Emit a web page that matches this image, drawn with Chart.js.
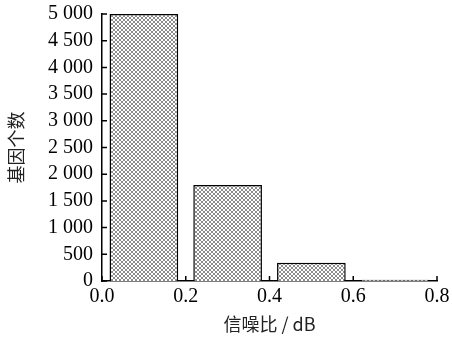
<!DOCTYPE html>
<html>
<head>
<meta charset="utf-8">
<script src="https://cdn.jsdelivr.net/npm/chart.js@4"></script>
<style>
  body { margin: 0; background: #fff; }
</style>
</head>
<body>
<canvas id="histChart" width="452" height="340"></canvas>
<script>
const binCenters = [0.1, 0.3, 0.5, 0.7];
const geneCounts = [5000, 1800, 340, 25];
const xTicks = [0, 0.2, 0.4, 0.6, 0.8];
const yMax = 5000;
const yStep = 500;

// crosshatch fill
function hatch() {
    const c = document.createElement('canvas');
    c.width = 4;
    c.height = 4;
    const g = c.getContext('2d');
    g.fillStyle = '#fff';
    g.fillRect(0, 0, 4, 4);
    g.fillStyle = '#8c8c8c';
    for (let i = 0; i < 4; i++) {
        g.fillRect(i, i, 1, 1);
        g.fillRect(3 - i, i, 1, 1);
    }
    return g.createPattern(c, 'repeat');
}

// short inward tick marks
const innerTicks = {
    id: 'innerTicks',
    afterDraw(chart) {
        const ctx = chart.ctx;
        const x = chart.scales.x;
        const y = chart.scales.y;
        ctx.save();
        ctx.strokeStyle = '#000';
        ctx.lineWidth = 1.5;
        ctx.beginPath();
        y.ticks.forEach(t => {
            const py = y.getPixelForValue(t.value);
            ctx.moveTo(x.left, py);
            ctx.lineTo(x.left + 5, py);
        });
        x.ticks.forEach(t => {
            const px = x.getPixelForValue(t.value);
            ctx.moveTo(px, y.bottom);
            ctx.lineTo(px, y.bottom - 5);
        });
        ctx.stroke();
        ctx.restore();
    }
};

const serif = { family: '"Times New Roman", "Liberation Serif", serif', size: 20 };
const cjk = { family: '"Noto Sans CJK SC", sans-serif', size: 18 };

new Chart(document.getElementById('histChart'), {
    type: 'bar',
    data: {
        datasets: [{
            data: binCenters.map((c, i) => ({ x: c, y: geneCounts[i] })),
            backgroundColor: hatch(),
            borderColor: '#000',
            borderWidth: 1.5,
            barPercentage: 1,
            categoryPercentage: 0.82
        }]
    },
    options: {
        responsive: false,
        devicePixelRatio: 1,
        animation: false,
        layout: { padding: { left: 0, right: 15, top: 14, bottom: 0 } },
        plugins: { legend: { display: false }, tooltip: { enabled: false } },
        scales: {
            x: {
                type: 'linear',
                min: 0,
                max: 0.8,
                offset: false,
                afterBuildTicks: s => { s.ticks = xTicks.map(v => ({ value: v })); },
                afterFit: s => { s.height = 59; s.paddingLeft = 0; s.paddingRight = 0; },
                grid: { display: false, drawTicks: false },
                border: { display: true, color: '#000', width: 1.5 },
                ticks: {
                    color: '#000',
                    font: serif,
                    padding: 4,
                    maxRotation: 0,
                    autoSkip: false,
                    callback: v => Number(v).toFixed(1)
                },
                title: {
                    display: true,
                    text: '信噪比 / dB',
                    color: '#222',
                    font: cjk,
                    padding: { top: 4, bottom: 5 }
                }
            },
            y: {
                min: 0,
                max: yMax,
                afterFit: s => { s.width = 102; s.paddingTop = 0; s.paddingBottom = 0; },
                grid: { display: false, drawTicks: false },
                border: { display: true, color: '#000', width: 1.5 },
                ticks: {
                    stepSize: yStep,
                    color: '#000',
                    font: serif,
                    padding: 9,
                    autoSkip: false,
                    callback: v => v >= 1000 ? Math.floor(v / 1000) + ' ' + String(v % 1000).padStart(3, '0') : String(v)
                },
                title: {
                    display: true,
                    text: '基因个数',
                    color: '#222',
                    font: cjk,
                    padding: { top: 5, bottom: 6 }
                }
            }
        }
    },
    plugins: [innerTicks]
});
</script>
</body>
</html>
